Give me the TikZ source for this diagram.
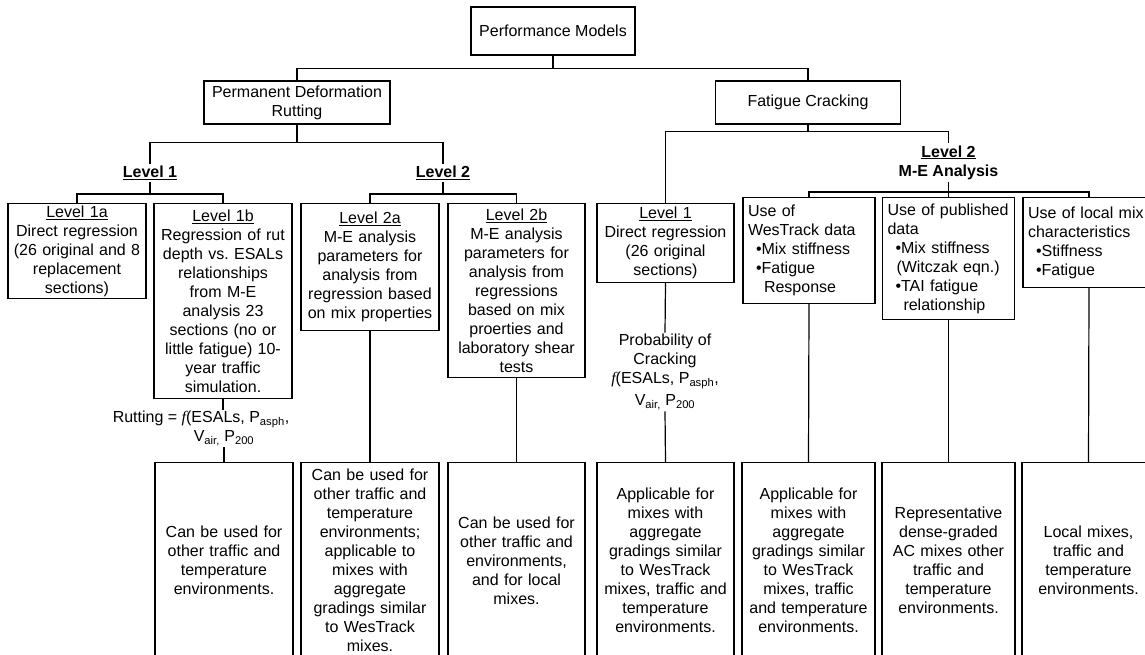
\documentclass[tikz,border=0pt]{standalone}
\usepackage{fontspec}
\setmainfont{Liberation Sans}
\newfontfamily\fnfont{Liberation Serif}
\usepackage{tikz}
\newcommand{\fn}{{\fnfont\itshape f}}
\frenchspacing

\begin{document}
\begin{tikzpicture}[x=1pt, y=-1pt, line width=1.2pt,
    font=\fontsize{16}{19}\selectfont,
    box/.style={rectangle, draw, inner sep=2pt, align=center},
    tag/.style={inner sep=2pt, align=center, font=\fontsize{16}{19}\selectfont\bfseries},
    cell/.style={rectangle, draw, anchor=north, inner sep=2pt, align=center,
                 text width=128pt, minimum width=138pt},
    uselist/.style={rectangle, draw, anchor=north, inner xsep=5pt, inner ysep=2pt,
                    align=left, text width=122pt, minimum width=132pt},
    notebox/.style={rectangle, draw, anchor=north, inner sep=2pt, align=center,
                    text width=128pt, minimum height=196pt},
    formula/.style={inner sep=1pt, align=center}]
  \useasboundingbox (0,0) rectangle (1145,655);

  % top of the tree
  \node[box, minimum width=164pt, minimum height=48pt] (pm) at (553,31) {Performance Models};
  \node[box, minimum width=186pt, minimum height=43pt] (pd) at (297,102.5) {Permanent Deformation\\Rutting};
  \node[box, minimum width=185pt, minimum height=43pt] (fc) at (808,102.5) {Fatigue Cracking};

  % level headings
  \node[tag] (rl1) at (150,173) {\underline{Level 1}};
  \node[tag] (rl2) at (443,173) {\underline{Level 2}};
  \node[tag] (fl2) at (948.5,162.5) {\underline{Level 2}\\M-E Analysis};

  % rutting models
  \node[cell, minimum height=95pt] (l1a) at (77,203)
    {\underline{Level 1a}\\Direct regression\\(26 original and 8\\replacement\\sections)};
  \node[cell, minimum height=195pt] (l1b) at (223,203)
    {\underline{Level 1b}\\Regression of rut\\depth vs. ESALs\\relationships\\from M-E\\analysis 23\\sections (no or\\little fatigue) 10-\\year traffic\\simulation.};
  \node[cell, minimum height=127pt] (l2a) at (370,203)
    {\underline{Level 2a}\\M-E analysis\\parameters for\\analysis from\\regression based\\on mix properties};
  \node[cell, minimum width=137pt, minimum height=174pt] (l2b) at (516.5,203)
    {\underline{Level 2b}\\M-E analysis\\parameters for\\analysis from\\regressions\\based on mix\\proerties and\\laboratory shear\\tests};

  % fatigue models
  \node[cell, minimum width=137pt, minimum height=79pt] (fl1) at (665.5,203)
    {\underline{Level 1}\\Direct regression\\(26 original\\sections)};
  \node[uselist, minimum height=106pt] (wt) at (809,197)
    {Use of\\WesTrack data\\\hspace*{8pt}•Mix stiffness\\\hspace*{8pt}•Fatigue\\\hspace*{16pt}Response};
  \node[uselist, minimum height=122pt] (pub) at (948.5,197)
    {Use of published\\data\\\hspace*{8pt}•Mix stiffness\\\hspace*{9pt}(Witczak eqn.)\\\hspace*{8pt}•TAI fatigue\\\hspace*{16pt}relationship};
  \node[uselist, minimum height=90pt] (lm) at (1089,197)
    {Use of local mix\\characteristics\\\hspace*{8pt}•Stiffness\\\hspace*{8pt}•Fatigue};

  % model forms
  \node[formula] (rf) at (201,428.5)
    {Rutting = \fn(ESALs, P\textsubscript{asph},\\\hspace*{46pt}V\textsubscript{air,} P\textsubscript{200}};
  \node[formula] (pc) at (665,372)
    {Probability of\\Cracking\\\fn(ESALs, P\textsubscript{asph},\\[3pt]V\textsubscript{air,} P\textsubscript{200}};

  % applicability
  \node[notebox, minimum width=138pt] (b1) at (224,462)
    {Can be used for\\other traffic and\\temperature\\environments.};
  \node[notebox, minimum width=138pt] (b2) at (370,462)
    {Can be used for\\other traffic and\\temperature\\environments;\\applicable to\\mixes with\\aggregate\\gradings similar\\to WesTrack\\mixes.};
  \node[notebox, minimum width=137pt] (b3) at (516.5,462)
    {Can be used for\\other traffic and\\environments,\\and for local\\mixes.};
  \node[notebox, minimum width=137pt] (b4) at (665.5,462)
    {Applicable for\\mixes with\\aggregate\\gradings similar\\to WesTrack\\mixes, traffic and\\temperature\\environments.};
  \node[notebox, minimum width=133pt] (b5) at (808.5,462)
    {Applicable for\\mixes with\\aggregate\\gradings similar\\to WesTrack\\mixes, traffic\\and temperature\\environments.};
  \node[notebox, minimum width=133pt] (b6) at (948.5,462)
    {Representative\\dense-graded\\AC mixes other\\traffic and\\temperature\\environments.};
  \node[notebox, minimum width=133pt] (b7) at (1088.5,462)
    {Local mixes,\\traffic and\\temperature\\environments.};

  % connectors
  \draw (pm.south) -- ++(0,13) coordinate (j0);
  \draw (pd.north) |- (j0) -| (fc.north);
  \draw (pd.south) -- ++(0,18) coordinate (j1);
  \draw (rl1.north) |- (j1) -| (rl2.north);
  \draw (l1a.north) -- ++(0,-9) coordinate (j2) -| (l1b.north);
  \draw (rl1.south) -- (rl1.south |- j2);
  \draw (l2a.north) -- ++(0,-9) coordinate (j3) -| (l2b.north);
  \draw (rl2.south) -- (rl2.south |- j3);
  \draw (fc.south) -- ++(0,7) coordinate (j4);
  \draw (fl1.north) |- (j4) -| (fl2.north);
  \draw (wt.north) -- ++(0,-5) coordinate (j5) -| (lm.north);
  \draw (fl2.south) -- (pub.north);
  \draw (l1b.south) -- (l1b.south |- rf.north);
  \draw (b1.north |- rf.south) -- (b1.north);
  \draw (l2a.south) -- (b2.north);
  \draw (l2b.south) -- (b3.north);
  \draw (fl1.south) -- (pc.north);
  \draw (pc.south) -- (b4.north);
  \draw (wt.south) -- (b5.north);
  \draw (pub.south) -- (b6.north);
  \draw (lm.south) -- (b7.north);
\end{tikzpicture}
\end{document}
